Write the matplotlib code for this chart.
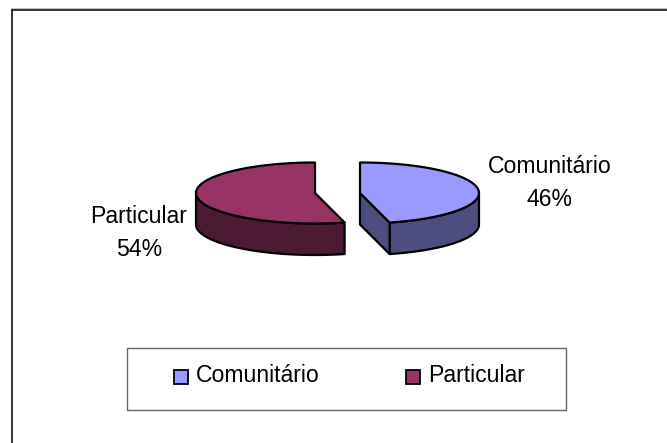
import numpy as np
import matplotlib
matplotlib.use("Agg")
import matplotlib.pyplot as plt
from matplotlib.patches import Polygon, Rectangle

categories = ["Comunitário", "Particular"]
shares = [46, 54]
top_colors = ["#9999FF", "#993366"]
side_colors = ["#4D4D80", "#4D1A33"]

plt.rcParams["font.family"] = ["Liberation Sans", "DejaVu Sans"]
W, H = 667, 443
fig = plt.figure(figsize=(W / 100, H / 100), dpi=100, facecolor="white")
ax = fig.add_axes([0, 0, 1, 1])
ax.set_xlim(0, W)
ax.set_ylim(H, 0)
ax.axis("off")

ax.plot([11.5, 11.5], [H, 9.5], color="black", lw=1.1, solid_capstyle="butt")
ax.plot([11, W], [9.5, 9.5], color="black", lw=1.1, solid_capstyle="butt")
ax.plot([11, W], [8.2, 8.2], color="#BBBBBB", lw=0.7, solid_capstyle="butt")

centres = [(360, 193), (315, 193)]
RX, RY, DEPTH = 119, 30.5, 31.5
LW = 1.6

def ell(cx, cy, a):
    return np.column_stack([cx + RX * np.cos(a), cy - RY * np.sin(a)])

total = sum(shares)
start = np.pi / 2
for i, (share, (cx, cy)) in enumerate(zip(shares, centres)):
    sweep = 2 * np.pi * share / total
    sign = -1 if i == 0 else 1
    t = np.linspace(start, start + sign * sweep, 200)
    rim = ell(cx, cy, t)
    vis = rim[np.sin(t) <= 0]
    vis = vis[np.argsort(vis[:, 0])]
    wall = np.vstack([vis, (vis + [0, DEPTH])[::-1]])
    ax.add_patch(Polygon(wall, closed=True, fc=side_colors[i], ec="black", lw=LW, joinstyle="round", zorder=2))
    if i == 0:
        end = rim[-1]
        face = np.array([[cx, cy], end, end + [0, DEPTH], [cx, cy + DEPTH]])
        ax.add_patch(Polygon(face, closed=True, fc=side_colors[i], ec="black", lw=LW, joinstyle="round", zorder=2))
    top = np.vstack([[cx, cy], rim])
    ax.add_patch(Polygon(top, closed=True, fc=top_colors[i], ec="black", lw=LW, joinstyle="round", zorder=3))

FS = 16.6
ax.text(549.5, 183, f"{categories[0]}\n{shares[0]}%", ha="center", va="center", fontsize=FS, color="black", linespacing=1.6)
ax.text(139, 233, f"{categories[1]}\n{shares[1]}%", ha="center", va="center", fontsize=FS, color="black", linespacing=1.6)

ax.add_patch(Rectangle((127, 348), 438.5, 62, fc="white", ec="#666666", lw=1.0))
for sx, tx, c, name in [(173.5, 196, top_colors[0], categories[0]), (405.5, 428, top_colors[1], categories[1])]:
    ax.add_patch(Rectangle((sx, 369.5), 14, 14, fc=c, ec="black", lw=1.3))
    ax.text(tx, 375, name, ha="left", va="center", fontsize=FS, color="black")

fig.savefig("out.png", dpi=100, facecolor="white")
